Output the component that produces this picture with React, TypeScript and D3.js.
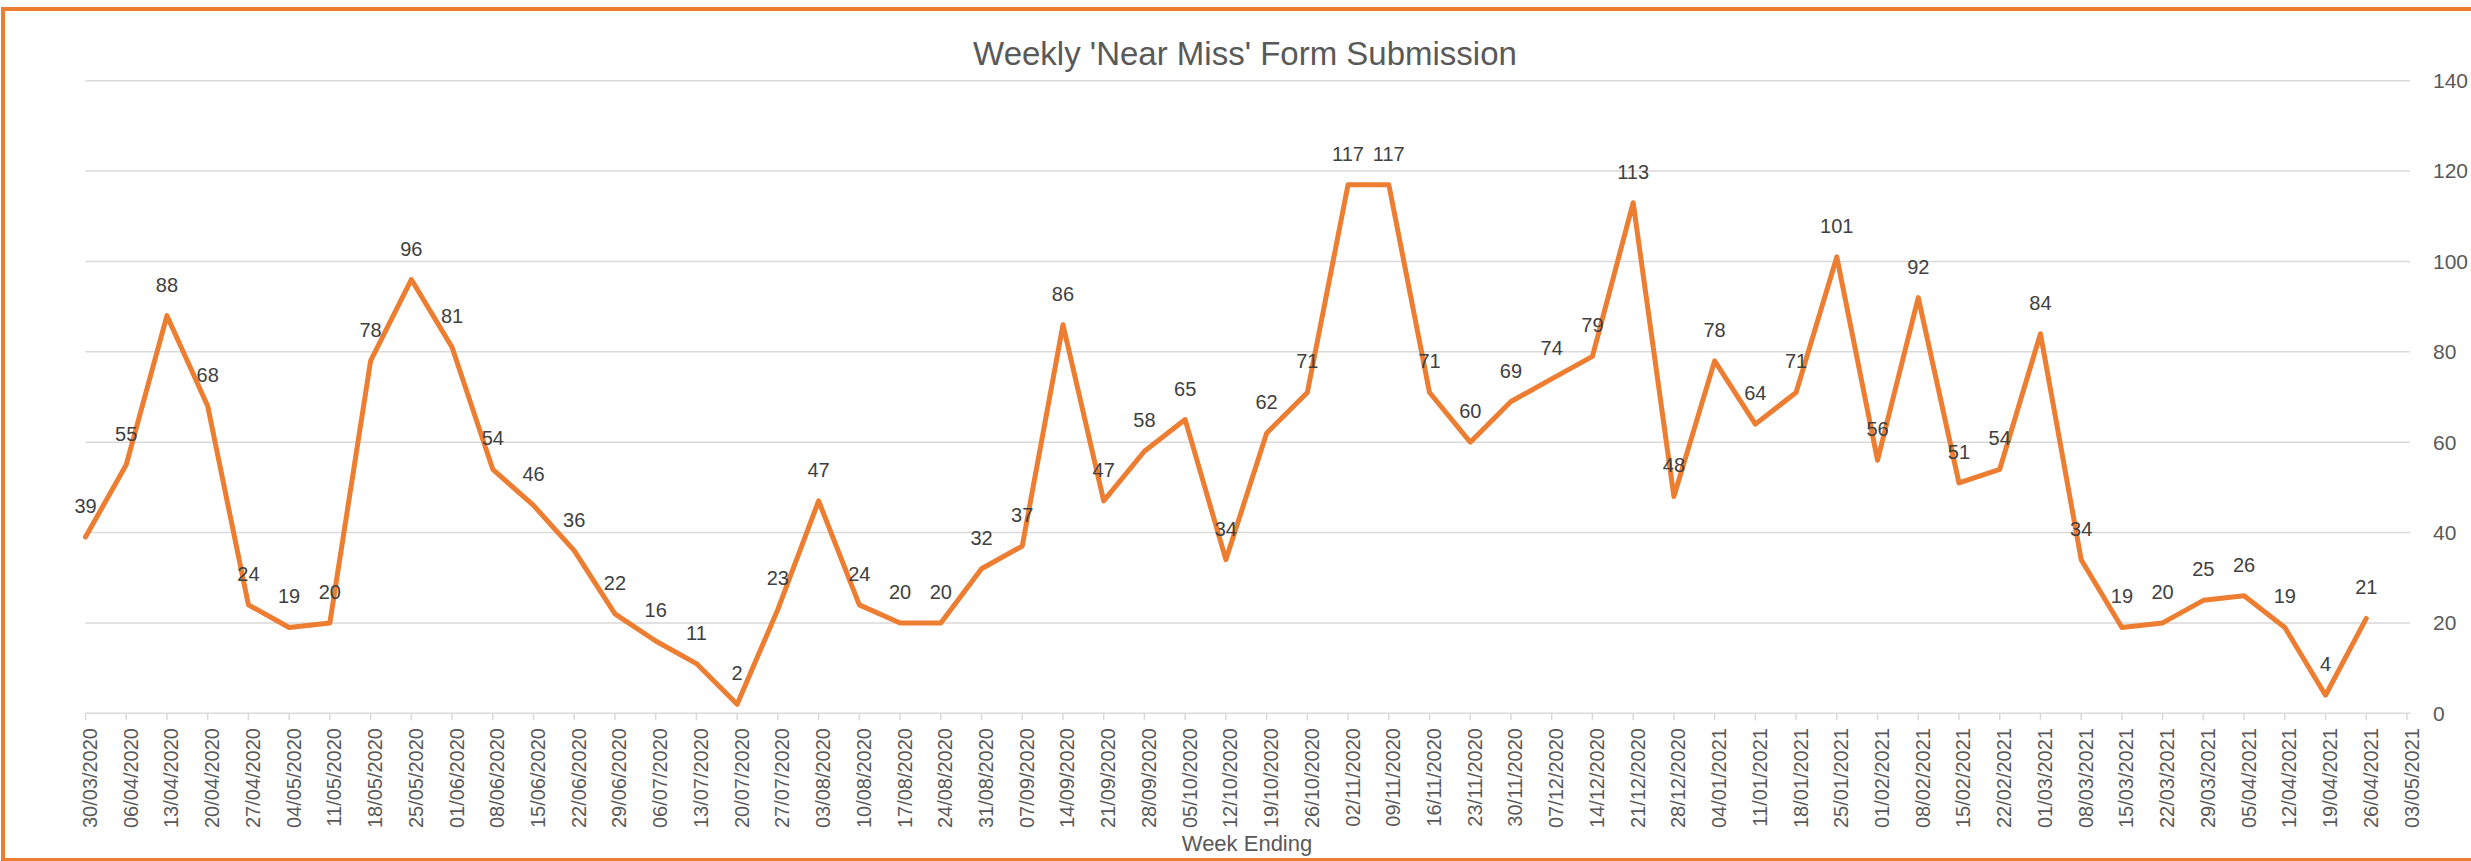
import React from "react";
import * as d3 from "d3";

const weeks = [
  "30/03/2020", "06/04/2020", "13/04/2020", "20/04/2020", "27/04/2020", "04/05/2020",
  "11/05/2020", "18/05/2020", "25/05/2020", "01/06/2020", "08/06/2020", "15/06/2020",
  "22/06/2020", "29/06/2020", "06/07/2020", "13/07/2020", "20/07/2020", "27/07/2020",
  "03/08/2020", "10/08/2020", "17/08/2020", "24/08/2020", "31/08/2020", "07/09/2020",
  "14/09/2020", "21/09/2020", "28/09/2020", "05/10/2020", "12/10/2020", "19/10/2020",
  "26/10/2020", "02/11/2020", "09/11/2020", "16/11/2020", "23/11/2020", "30/11/2020",
  "07/12/2020", "14/12/2020", "21/12/2020", "28/12/2020", "04/01/2021", "11/01/2021",
  "18/01/2021", "25/01/2021", "01/02/2021", "08/02/2021", "15/02/2021", "22/02/2021",
  "01/03/2021", "08/03/2021", "15/03/2021", "22/03/2021", "29/03/2021", "05/04/2021",
  "12/04/2021", "19/04/2021", "26/04/2021", "03/05/2021",
];

// one value per week, the last week (03/05/2021) has no value yet
const submissions = [
  39, 55, 88, 68, 24, 19, 20, 78, 96, 81, 54, 46, 36, 22, 16, 11, 2, 23, 47, 24,
  20, 20, 32, 37, 86, 47, 58, 65, 34, 62, 71, 117, 117, 71, 60, 69, 74, 79, 113, 48,
  78, 64, 71, 101, 56, 92, 51, 54, 84, 34, 19, 20, 25, 26, 19, 4, 21,
];

const yTicks = [0, 20, 40, 60, 80, 100, 120, 140];

const W = 2471;
const H = 861;
const orange = "#ED7D31";
const font = "'Liberation Sans', Arial, sans-serif";

export default function App() {
  const svgRef = React.useRef<SVGSVGElement | null>(null);

  React.useEffect(() => {
    const x = d3.scalePoint<string>().domain(weeks).range([85.5, 2407]);
    const y = d3.scaleLinear().domain([0, 140]).range([713.3, 80.7]);

    const svg = d3.select(svgRef.current);
    svg.selectAll("*").remove();

    svg.append("rect").attr("width", W).attr("height", H).attr("fill", "white");

    // chart border
    svg.append("rect")
      .attr("x", 3).attr("y", 9)
      .attr("width", W + 20).attr("height", 851)
      .attr("fill", "none")
      .attr("stroke", orange)
      .attr("stroke-width", 4);

    svg.append("text")
      .attr("x", 1245).attr("y", 65)
      .attr("text-anchor", "middle")
      .attr("font-family", font)
      .attr("font-size", 33)
      .attr("fill", "#595959")
      .text("Weekly 'Near Miss' Form Submission");

    const x0 = x(weeks[0])!;
    const x1 = x(weeks[weeks.length - 1])! + 3;

    // gridlines + right axis labels
    const grid = svg.append("g");
    grid.selectAll("line")
      .data(yTicks)
      .join("line")
      .attr("x1", x0).attr("x2", x1)
      .attr("y1", d => y(d)).attr("y2", d => y(d))
      .attr("stroke", "#D9D9D9")
      .attr("stroke-width", 1.5);
    grid.selectAll("text")
      .data(yTicks)
      .join("text")
      .attr("x", 2433)
      .attr("y", d => y(d))
      .attr("dy", "0.35em")
      .attr("font-family", font)
      .attr("font-size", 21)
      .attr("fill", "#595959")
      .text(d => d);

    // x axis ticks and rotated labels
    const xa = svg.append("g");
    xa.selectAll("line")
      .data(weeks)
      .join("line")
      .attr("x1", d => x(d)!).attr("x2", d => x(d)!)
      .attr("y1", y(0)).attr("y2", y(0) + 7)
      .attr("stroke", "#D9D9D9")
      .attr("stroke-width", 1.5);
    xa.selectAll("text")
      .data(weeks)
      .join("text")
      .attr("transform", d => `translate(${x(d)! + 11.5},728) rotate(-90)`)
      .attr("text-anchor", "end")
      .attr("font-family", font)
      .attr("font-size", 20)
      .attr("fill", "#595959")
      .text(d => d);

    svg.append("text")
      .attr("x", 1247).attr("y", 851)
      .attr("text-anchor", "middle")
      .attr("font-family", font)
      .attr("font-size", 22)
      .attr("fill", "#595959")
      .text("Week Ending");

    const line = d3.line<number>()
      .x((_, i) => x(weeks[i])!)
      .y(d => y(d));

    svg.append("path")
      .datum(submissions)
      .attr("d", line)
      .attr("fill", "none")
      .attr("stroke", orange)
      .attr("stroke-width", 5)
      .attr("stroke-linejoin", "round")
      .attr("stroke-linecap", "round");

    svg.append("g")
      .selectAll("text")
      .data(submissions)
      .join("text")
      .attr("x", (_, i) => x(weeks[i])!)
      .attr("y", d => y(d) - 24)
      .attr("text-anchor", "middle")
      .attr("font-family", font)
      .attr("font-size", 20)
      .attr("fill", "#404040")
      .text(d => d);
  }, []);

  return (
    <svg
      ref={svgRef}
      width={W}
      height={H}
      style={{ position: "absolute", left: 0, top: 0, display: "block" }}
    />
  );
}
